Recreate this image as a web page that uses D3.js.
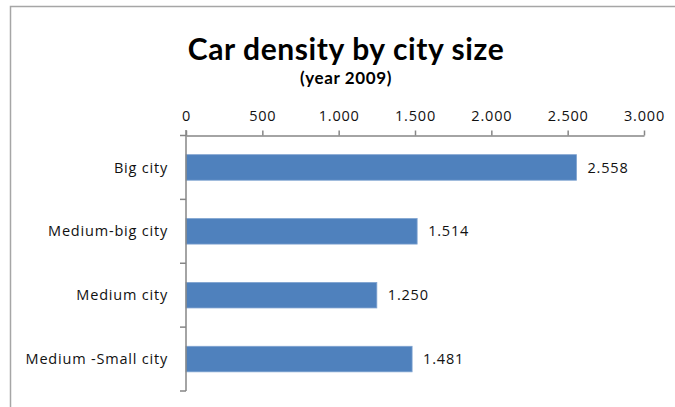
<!DOCTYPE html>
<html><head><meta charset="utf-8">
<script src="https://cdn.jsdelivr.net/npm/d3@7"></script>
<style>body{margin:0;background:#fff}svg{display:block}text{font-family:"Open Sans",Lato,sans-serif}</style>
</head><body><svg id="c" width="675" height="407"></svg>
<script>
const categories = ["Big city","Medium-big city","Medium city","Medium -Small city"];
const values = [2558,1514,1250,1481];
const tickValues = [0,500,1000,1500,2000,2500,3000];
const title = "Car density by city size";
const subtitle = "(year 2009)";

const svg = d3.select("#c");
const locale = d3.formatLocale({decimal:",",thousands:".",grouping:[3],currency:["",""]});
const fmt = locale.format(",d");

// chart border
svg.append("path").attr("d","M10.5,407 V6.5 H675").attr("fill","none").attr("stroke","#a6a6a6").attr("stroke-width",1.5);

const x = d3.scaleLinear().domain([0,3000]).range([186,644]);
const y = d3.scaleBand().domain(categories).range([135.5,391]).paddingInner(0.6).paddingOuter(0.3);

svg.append("text").attr("x",346).attr("y",60).attr("text-anchor","middle")
  .attr("font-size",30).attr("font-weight","bold").attr("letter-spacing",0.6).attr("fill","#000")
  .style("font-family","Lato,sans-serif").text(title);
svg.append("text").attr("x",346).attr("y",84).attr("text-anchor","middle")
  .attr("font-size",17).attr("font-weight","bold").attr("letter-spacing",0.6).attr("fill","#000")
  .style("font-family","Lato,sans-serif").text(subtitle);

// bars
svg.selectAll("rect.bar").data(values).enter().append("rect").attr("class","bar")
  .attr("x",x(0)).attr("y",(d,i)=>y(categories[i]))
  .attr("width",d=>x(d)-x(0)).attr("height",y.bandwidth())
  .attr("fill","#4f81bd").attr("stroke","#7fa3d0").attr("stroke-width",0.8);

// value labels
svg.selectAll("text.val").data(values).enter().append("text").attr("class","val")
  .attr("x",d=>x(d)+11).attr("y",(d,i)=>y(categories[i])+y.bandwidth()/2).attr("dy","0.35em")
  .attr("font-size",14.5).attr("letter-spacing",0.8).attr("fill","#111").text(d=>fmt(d));

// top x axis
const xa = svg.append("g").attr("transform","translate(0,135.5)")
  .call(d3.axisTop(x).tickValues(tickValues).tickFormat(fmt).tickSize(5).tickSizeOuter(0).tickPadding(10));
xa.selectAll("path,line").attr("stroke","#868686").attr("stroke-width",1.5);
xa.selectAll("text").attr("font-size",14.5).attr("letter-spacing",0.8).attr("fill","#111").style("font-family","'Open Sans',sans-serif");

// left category axis with ticks at band edges
const ya = svg.append("g").attr("transform","translate(186,0)");
ya.append("line").attr("x1",0).attr("x2",0).attr("y1",130).attr("y2",391).attr("stroke","#868686").attr("stroke-width",1.5);
const edges = d3.range(categories.length+1).map(i=>135.5+i*(391-135.5)/categories.length);
ya.selectAll("line.t").data(edges).enter().append("line").attr("class","t")
  .attr("x1",-6).attr("x2",0).attr("y1",d=>d).attr("y2",d=>d).attr("stroke","#868686").attr("stroke-width",1.5);
ya.selectAll("text").data(categories).enter().append("text")
  .attr("x",-18).attr("y",d=>y(d)+y.bandwidth()/2).attr("dy","0.35em").attr("text-anchor","end")
  .attr("font-size",14.5).attr("letter-spacing",0.8).attr("fill","#111").text(d=>d);
</script></body></html>
